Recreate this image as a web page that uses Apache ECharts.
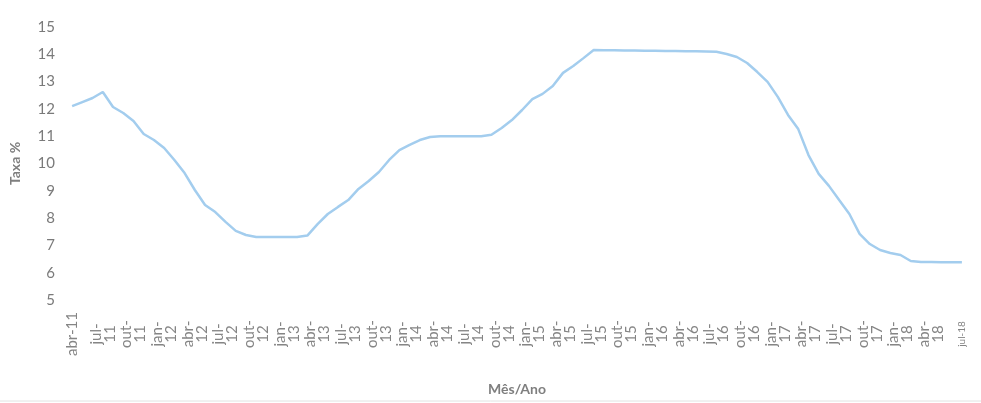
<!DOCTYPE html>
<html>
<head>
<meta charset="utf-8">
<script src="https://cdn.jsdelivr.net/npm/echarts@6/dist/echarts.min.js"></script>
<style>
  html, body { margin: 0; padding: 0; background: #ffffff; }
  #chart { width: 981px; height: 403px; }
</style>
</head>
<body>
<div id="chart"></div>
<script>
// Monthly categories, abr-11 .. jul-18
const months = [
  'abr-11','mai-11','jun-11','jul-11','ago-11','set-11','out-11','nov-11','dez-11',
  'jan-12','fev-12','mar-12','abr-12','mai-12','jun-12','jul-12','ago-12','set-12','out-12','nov-12','dez-12',
  'jan-13','fev-13','mar-13','abr-13','mai-13','jun-13','jul-13','ago-13','set-13','out-13','nov-13','dez-13',
  'jan-14','fev-14','mar-14','abr-14','mai-14','jun-14','jul-14','ago-14','set-14','out-14','nov-14','dez-14',
  'jan-15','fev-15','mar-15','abr-15','mai-15','jun-15','jul-15','ago-15','set-15','out-15','nov-15','dez-15',
  'jan-16','fev-16','mar-16','abr-16','mai-16','jun-16','jul-16','ago-16','set-16','out-16','nov-16','dez-16',
  'jan-17','fev-17','mar-17','abr-17','mai-17','jun-17','jul-17','ago-17','set-17','out-17','nov-17','dez-17',
  'jan-18','fev-18','mar-18','abr-18','mai-18','jun-18','jul-18'
];

// Taxa (% a.a.) per month
const taxa = [
  12.10, 12.25, 12.40, 12.62, 12.07, 11.85, 11.56, 11.08, 10.86,
  10.57, 10.13, 9.65, 9.03, 8.48, 8.22, 7.86, 7.53, 7.38, 7.31, 7.31, 7.31,
  7.31, 7.31, 7.36, 7.78, 8.15, 8.41, 8.66, 9.07, 9.36, 9.69, 10.13, 10.49,
  10.68, 10.86, 10.97, 11.00, 11.00, 11.00, 11.00, 11.00, 11.05, 11.30, 11.59, 11.96,
  12.36, 12.55, 12.84, 13.32, 13.57, 13.86, 14.16, 14.15, 14.15, 14.14, 14.14, 14.13,
  14.13, 14.12, 14.12, 14.11, 14.11, 14.10, 14.09, 14.01, 13.90, 13.68, 13.35, 12.99,
  12.44, 11.78, 11.26, 10.31, 9.62, 9.18, 8.66, 8.15, 7.42, 7.05, 6.83, 6.72,
  6.65, 6.43, 6.39, 6.39, 6.38, 6.38, 6.38
];

const yMin = 5, yMax = 15, yStep = 1;
const labelFont = 'Lato, "Open Sans", sans-serif';

const chart = echarts.init(document.getElementById('chart'));
chart.setOption({
  backgroundColor: '#ffffff',
  animation: false,
  grid: { left: 67, right: 14, top: 27, bottom: 103 },
  xAxis: {
    type: 'category',
    data: months,
    boundaryGap: true,
    name: 'Mês/Ano',
    nameLocation: 'middle',
    nameGap: 82,
    nameTextStyle: { color: '#7f7f7f', fontSize: 14, fontWeight: 'bold', fontFamily: labelFont },
    axisLine: { show: false },
    axisTick: { show: false },
    splitLine: { show: false },
    axisLabel: {
      interval: 2,
      rotate: 90,
      align: 'center',
      verticalAlign: 'middle',
      margin: 34,
      color: '#858585',
      fontSize: 15,
      lineHeight: 14,
      fontFamily: labelFont,
      formatter: function (v, i) {
        if (i === 0) return v;
        if (i === months.length - 1) return '{s|' + v + '}';
        const p = v.split('-');
        return p[0] + '-\n' + p[1];
      },
      rich: { s: { fontSize: 10, color: '#858585', fontFamily: labelFont } }
    }
  },
  yAxis: {
    type: 'value',
    min: yMin,
    max: yMax,
    interval: yStep,
    name: 'Taxa %',
    nameLocation: 'middle',
    nameGap: 45,
    nameTextStyle: { color: '#7f7f7f', fontSize: 14, fontWeight: 'bold', fontFamily: labelFont },
    axisLine: { show: false },
    axisTick: { show: false },
    splitLine: { show: false },
    axisLabel: { color: '#7a7a7a', fontSize: 15, margin: 12, fontFamily: labelFont }
  },
  series: [{
    type: 'line',
    data: taxa,
    symbol: 'none',
    smooth: false,
    lineStyle: { color: '#a3cdee', width: 2.5 }
  }],
  graphic: [{
    type: 'line',
    shape: { x1: 0, y1: 401, x2: 981, y2: 401 },
    style: { stroke: '#e2e2e2', lineWidth: 1 }
  }]
});
</script>
</body>
</html>
